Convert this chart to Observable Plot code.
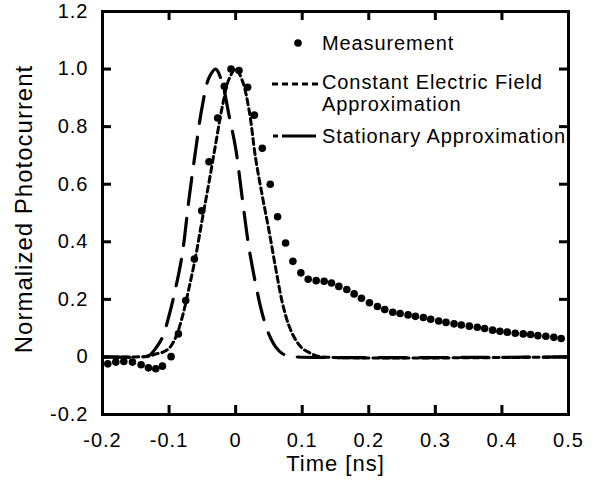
<!DOCTYPE html>
<html>
<head>
<meta charset="utf-8">
<script src="https://cdn.jsdelivr.net/npm/d3@7"></script>
<script src="https://cdn.jsdelivr.net/npm/@observablehq/plot@0.6"></script>
<style>
  html, body { margin: 0; padding: 0; background: #fff; }
  #wrap { position: relative; width: 605px; height: 493px; }
  #legend { position: absolute; left: 0; top: 0; pointer-events: none; }
</style>
</head>
<body>
<div id="wrap"></div>
<script>
// ---- data ----
const measT = [-0.192,-0.18,-0.168,-0.155,-0.142,-0.131,-0.12,-0.11,-0.097,-0.086,-0.075,-0.062,-0.051,-0.04,-0.027,-0.017,-0.007,0.005,0.018,0.028,0.04,0.052,0.063,
  0.075,0.086,0.098,0.109,0.121,0.133,0.144,0.155,0.167,0.178,0.189,0.201,0.213,0.224,0.236,0.247,0.259,0.27,0.282,0.293,0.305,0.316,0.328,0.339,0.351,0.363,0.374,0.386,0.397,0.408,0.42,0.432,0.443,0.454,0.466,0.478,0.489];
const measV = [-0.024,-0.018,-0.016,-0.018,-0.027,-0.038,-0.041,-0.032,0.001,0.08,0.196,0.34,0.508,0.678,0.83,0.94,1.0,0.995,0.937,0.84,0.725,0.60,0.487,
  0.396,0.332,0.292,0.27,0.265,0.263,0.257,0.245,0.234,0.219,0.204,0.188,0.175,0.165,0.155,0.151,0.146,0.141,0.137,0.131,0.125,0.12,0.115,0.111,0.107,0.103,0.099,0.093,0.089,0.086,0.082,0.08,0.078,0.074,0.072,0.068,0.064];

const constT = [-0.2,-0.15,-0.13,-0.12,-0.11,-0.1,-0.09,-0.08,-0.07,-0.06,-0.05,-0.04,-0.03,-0.02,-0.01,0,0.01,0.02,0.03,0.04,0.05,0.06,0.07,0.08,0.09,0.1,0.11,0.12,0.13,0.5];
const constV = [0,0,0.003,0.01,0.016,0.03,0.068,0.14,0.24,0.35,0.48,0.607,0.74,0.87,0.965,1.0,0.96,0.86,0.69,0.56,0.44,0.31,0.19,0.109,0.06,0.03,0.016,0.005,0,0];

const statT = [-0.2,-0.14,-0.13,-0.12,-0.11,-0.1,-0.09,-0.08,-0.07,-0.06,-0.05,-0.04,-0.03,-0.02,-0.01,0,0.01,0.02,0.03,0.04,0.05,0.06,0.07,0.08,0.09,0.5];
const statV = [0,0,0.005,0.03,0.068,0.144,0.24,0.36,0.55,0.72,0.873,0.97,1.0,0.95,0.84,0.725,0.55,0.38,0.254,0.15,0.078,0.035,0.012,0.003,0,0];

const xDomain = [-0.2, 0.5];
const yDomain = [-0.2, 1.2];
const xTicks = [-0.2,-0.1,0,0.1,0.2,0.3,0.4,0.5];
const xTickLabels = ["-0.2","-0.1","0","0.1","0.2","0.3","0.4","0.5"];
const yTicks = [-0.2,0,0.2,0.4,0.6,0.8,1.0,1.2];
const yTickLabels = ["-0.2","0","0.2","0.4","0.6","0.8","1.0","1.2"];

const xTitle = "Time [ns]";
const yTitle = "Normalized Photocurrent";

const legendLabels = [["Measurement"], ["Constant Electric Field", "Approximation"], ["Stationary Approximation"]];

// ---- build tables ----
const meas = measT.map((t, i) => ({t, v: measV[i]}));
const cons = constT.map((t, i) => ({t, v: constV[i]}));
const stat = statT.map((t, i) => ({t, v: statV[i]}));

const font = "'Liberation Sans', Arial, sans-serif";
const idx = (arr, d) => arr.findIndex(v => Math.abs(v - d) < 1e-9);

const W = 605, H = 493, ML = 102, MR = 37, MT = 11, MB = 79;
const TICK = 9;
const frameW = W - ML - MR, frameH = H - MT - MB;

const chart = Plot.plot({
  width: W,
  height: H,
  marginLeft: ML,
  marginRight: MR,
  marginTop: MT,
  marginBottom: MB,
  style: {fontFamily: font, fontSize: "20px", color: "#000", background: "#fff", letterSpacing: "1px"},
  x: {domain: xDomain},
  y: {domain: yDomain},
  marks: [
    Plot.line(stat, {x: "t", y: "v", stroke: "#000", strokeWidth: 3.2, strokeDasharray: "27,14", curve: "catmull-rom"}),
    Plot.line(cons, {x: "t", y: "v", stroke: "#000", strokeWidth: 3, strokeDasharray: "6,4", curve: "catmull-rom"}),
    Plot.dot(meas, {x: "t", y: "v", r: 3.8, fill: "#000", stroke: null}),
    // inward ticks on all four sides
    Plot.ruleX(xTicks, {x: d => d, insetTop: frameH - TICK, stroke: "#000", strokeWidth: 3}),
    Plot.ruleX(xTicks, {x: d => d, insetBottom: frameH - TICK, stroke: "#000", strokeWidth: 3}),
    Plot.ruleY(yTicks, {y: d => d, insetRight: frameW - TICK, stroke: "#000", strokeWidth: 3}),
    Plot.ruleY(yTicks, {y: d => d, insetLeft: frameW - TICK, stroke: "#000", strokeWidth: 3}),
    Plot.frame({stroke: "#000", strokeWidth: 3}),
    // tick labels
    Plot.axisX({anchor: "bottom", ticks: xTicks, tickSize: 0, tickPadding: 18, tickFormat: d => xTickLabels[idx(xTicks, d)], label: null, fontSize: 20}),
    Plot.axisY({anchor: "left", ticks: yTicks, tickSize: 0, tickPadding: 14, tickFormat: d => yTickLabels[idx(yTicks, d)], label: null, fontSize: 20}),
    // axis titles
    Plot.text([xTitle], {frameAnchor: "bottom", textAnchor: "middle", dy: 56, fontSize: 22, text: d => d}),
    Plot.text([yTitle], {frameAnchor: "left", textAnchor: "middle", dx: -78, dy: -4, rotate: -90, fontSize: 24, text: d => d})
  ]
});

const wrap = document.getElementById("wrap");
wrap.appendChild(chart);

// ---- legend overlay ----
const svg = d3.select(wrap).append("svg")
  .attr("id", "legend").attr("width", W).attr("height", H)
  .style("font-family", font).style("font-size", "20px").style("letter-spacing", "0.9px");

const textX = 322;
const rowsY = [43, 82, 136];
// Measurement
svg.append("circle").attr("cx", 298).attr("cy", rowsY[0]).attr("r", 3.8).attr("fill", "#000");
// Constant electric field
svg.append("line").attr("x1", 272).attr("x2", 318).attr("y1", rowsY[1] + 2).attr("y2", rowsY[1] + 2)
  .attr("stroke", "#000").attr("stroke-width", 3).attr("stroke-dasharray", "6,4");
// Stationary
svg.append("line").attr("x1", 273).attr("x2", 316).attr("y1", rowsY[2]).attr("y2", rowsY[2])
  .attr("stroke", "#000").attr("stroke-width", 3.2).attr("stroke-dasharray", "5,4,34");

legendLabels.forEach((lines, i) => {
  lines.forEach((s, j) => {
    svg.append("text").attr("x", textX).attr("y", rowsY[i] + j * 22)
      .attr("dy", "0.35em").attr("fill", "#000").text(s);
  });
});
</script>
</body>
</html>
